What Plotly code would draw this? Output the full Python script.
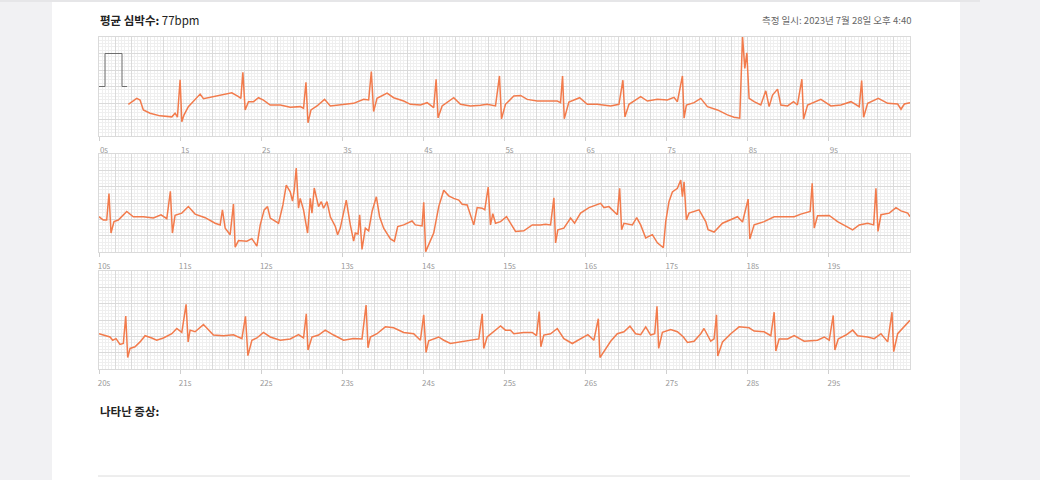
import plotly.graph_objects as go

# ECG strips: time (s) and amplitude (mV)
cal_t = [0.0, 0.074, 0.074, 0.284, 0.284, 0.346]
cal_v = [0.0, 0.0, 1.0, 1.0, 0.0, 0.0]

t1 = [0.362, 0.465, 0.506, 0.547, 0.630, 0.753, 0.898, 0.938, 0.967, 1.000, 1.021, 1.049, 1.102, 1.185,
      1.247, 1.288, 1.411, 1.535, 1.638, 1.720, 1.749, 1.774, 1.802, 1.843, 1.905, 1.967, 2.028, 2.111,
      2.235, 2.358, 2.481, 2.522, 2.552, 2.577, 2.614, 2.688, 2.781, 2.852, 2.975, 3.140, 3.263, 3.325,
      3.358, 3.386, 3.428, 3.552, 3.633, 3.757, 3.840, 3.963, 4.046, 4.127, 4.157, 4.181, 4.231, 4.293,
      4.374, 4.457, 4.580, 4.704, 4.786, 4.889, 4.938, 4.963, 5.012, 5.115, 5.198, 5.280, 5.404, 5.527,
      5.651, 5.691, 5.716, 5.737, 5.794, 5.926, 6.021, 6.144, 6.309, 6.411, 6.460, 6.485, 6.535, 6.679,
      6.762, 6.885, 7.008, 7.090, 7.132, 7.194, 7.214, 7.243, 7.337, 7.420, 7.502, 7.626, 7.749, 7.831,
      7.901, 7.935, 7.963, 7.988, 8.016, 8.078, 8.160, 8.222, 8.263, 8.305, 8.367, 8.407, 8.490, 8.564,
      8.612, 8.667, 8.688, 8.737, 8.901, 9.025, 9.148, 9.272, 9.374, 9.404, 9.428, 9.478, 9.609, 9.725,
      9.848, 9.889, 9.930, 10.0]
v1 = [-0.54, -0.36, -0.41, -0.71, -0.81, -0.89, -0.92, -0.81, -0.93, 0.20, -1.07, -0.86, -0.61, -0.39,
      -0.23, -0.37, -0.31, -0.26, -0.19, -0.31, -0.36, 0.43, -0.71, -0.46, -0.46, -0.34, -0.41, -0.56,
      -0.56, -0.63, -0.61, -0.66, 0.13, -1.10, -0.71, -0.59, -0.39, -0.59, -0.56, -0.51, -0.39, -0.41,
      0.45, -0.76, -0.36, -0.20, -0.34, -0.44, -0.54, -0.56, -0.49, -0.64, 0.22, -0.95, -0.59, -0.49,
      -0.34, -0.54, -0.59, -0.57, -0.54, -0.59, 0.32, -0.98, -0.54, -0.29, -0.27, -0.39, -0.44, -0.44,
      -0.44, -0.49, 0.32, -0.98, -0.47, -0.34, -0.54, -0.54, -0.59, -0.54, 0.19, -0.92, -0.54, -0.31,
      -0.44, -0.39, -0.41, -0.33, -0.46, 0.32, -0.96, -0.56, -0.49, -0.36, -0.61, -0.71, -0.86, -0.93,
      -0.96, 1.52, 0.55, 1.02, -0.36, -0.46, -0.56, -0.13, -0.61, -0.26, -0.08, -0.56, -0.59, -0.46,
      -0.56, 0.22, -0.99, -0.56, -0.39, -0.59, -0.56, -0.46, -0.61, 0.18, -0.93, -0.51, -0.36, -0.51,
      -0.53, -0.69, -0.53, -0.49]

t2 = [10.000, 10.053, 10.095, 10.123, 10.148, 10.185, 10.238, 10.342, 10.423, 10.547, 10.670, 10.765,
      10.836, 10.880, 10.905, 10.938, 11.021, 11.102, 11.185, 11.309, 11.432, 11.494, 11.522, 11.556,
      11.617, 11.658, 11.679, 11.720, 11.823, 11.885, 11.947, 11.988, 12.037, 12.078, 12.111, 12.173,
      12.214, 12.268, 12.309, 12.358, 12.386, 12.407, 12.432, 12.460, 12.481, 12.522, 12.572, 12.605,
      12.626, 12.654, 12.707, 12.741, 12.769, 12.811, 12.852, 12.914, 12.942, 12.975, 13.049, 13.099,
      13.140, 13.160, 13.194, 13.214, 13.243, 13.284, 13.325, 13.367, 13.420, 13.460, 13.510, 13.593,
      13.642, 13.683, 13.757, 13.860, 13.901, 13.984, 14.004, 14.028, 14.086, 14.127, 14.189, 14.251,
      14.312, 14.374, 14.436, 14.478, 14.540, 14.601, 14.621, 14.663, 14.725, 14.757, 14.799, 14.827,
      14.856, 14.889, 14.951, 15.025, 15.074, 15.136, 15.238, 15.342, 15.444, 15.506, 15.568, 15.609,
      15.630, 15.658, 15.732, 15.815, 15.864, 15.938, 16.041, 16.144, 16.185, 16.226, 16.288, 16.391,
      16.420, 16.444, 16.473, 16.577, 16.630, 16.679, 16.741, 16.823, 16.885, 16.959, 16.988, 17.028,
      17.070, 17.132, 17.173, 17.194, 17.214, 17.243, 17.275, 17.399, 17.420, 17.481, 17.510, 17.584,
      17.688, 17.790, 17.873, 17.935, 18.004, 18.025, 18.078, 18.201, 18.325, 18.448, 18.572, 18.654,
      18.769, 18.794, 18.819, 18.860, 19.004, 19.107, 19.293, 19.374, 19.478, 19.552, 19.580, 19.605,
      19.642, 19.744, 19.827, 19.889, 19.972, 20.0]
v2 = [-0.42, -0.52, -0.52, 0.29, -0.92, -0.57, -0.52, -0.26, -0.42, -0.42, -0.46, -0.36,
      -0.48, 0.36, -0.92, -0.38, -0.31, -0.11, -0.34, -0.45, -0.62, -0.67, -0.21, -0.77,
      -0.97, -0.03, -1.35, -1.15, -1.17, -1.09, -1.32, -0.67, -0.21, -0.11, -0.46, -0.55,
      -0.62, -0.06, 0.55, 0.34, 0.06, 0.39, 1.07, -0.16, 0.14, -0.21, -0.92, 0.14,
      -0.31, 0.46, -0.11, 0.04, -0.16, 0.04, -0.42, -0.72, -0.97, -0.77, 0.09, -0.67,
      -1.17, -0.92, -0.95, -0.36, -1.42, -0.77, -0.85, -0.26, 0.19, -0.42, -0.77, -1.10,
      -1.17, -0.72, -0.67, -0.55, -0.67, -0.70, 0.02, -1.49, -1.17, -0.92, -0.11, 0.39,
      0.22, 0.14, 0.09, -0.04, -0.06, -0.57, -0.67, -0.14, -0.16, -0.21, 0.49, -0.67,
      -0.33, -0.62, -0.57, -0.42, -0.62, -0.87, -0.85, -0.67, -0.67, -0.65, -0.67, 0.16,
      -1.22, -0.82, -0.77, -0.46, -0.62, -0.31, -0.14, -0.04, -0.01, -0.14, -0.11, -0.36,
      0.45, -0.82, -0.62, -0.67, -0.45, -0.67, -1.07, -0.97, -1.22, -1.37, -0.57, 0.04,
      0.34, 0.45, 0.70, 0.19, 0.65, -0.52, -0.31, -0.21, -0.31, -0.57, -0.82, -0.89,
      -0.62, -0.52, -0.42, -0.58, 0.12, -1.10, -0.67, -0.57, -0.42, -0.42, -0.42, -0.34,
      -0.26, 0.60, -0.77, -0.39, -0.38, -0.57, -0.82, -0.67, -0.62, -0.67, 0.45, -0.87,
      -0.36, -0.31, -0.14, -0.24, -0.31, -0.42]

t3 = [20.000, 20.074, 20.136, 20.169, 20.210, 20.259, 20.300, 20.330, 20.354, 20.383, 20.444, 20.506,
      20.568, 20.651, 20.712, 20.794, 20.898, 20.959, 21.021, 21.074, 21.099, 21.123, 21.185, 21.288,
      21.349, 21.411, 21.535, 21.658, 21.762, 21.806, 21.836, 21.885, 21.947, 22.028, 22.111, 22.235,
      22.358, 22.460, 22.522, 22.556, 22.577, 22.626, 22.707, 22.790, 22.893, 23.016, 23.140, 23.243,
      23.293, 23.317, 23.346, 23.428, 23.531, 23.633, 23.757, 23.880, 23.963, 24.004, 24.033, 24.065,
      24.189, 24.251, 24.333, 24.457, 24.580, 24.683, 24.725, 24.744, 24.786, 24.877, 24.951, 25.012,
      25.074, 25.115, 25.238, 25.342, 25.395, 25.428, 25.448, 25.485, 25.568, 25.651, 25.732, 25.836,
      25.938, 26.028, 26.102, 26.157, 26.177, 26.226, 26.309, 26.391, 26.473, 26.547, 26.617, 26.679,
      26.741, 26.802, 26.852, 26.880, 26.901, 26.947, 27.049, 27.132, 27.206, 27.256, 27.337, 27.420,
      27.460, 27.543, 27.584, 27.614, 27.630, 27.688, 27.790, 27.893, 28.016, 28.078, 28.201, 28.284,
      28.325, 28.346, 28.386, 28.490, 28.572, 28.695, 28.860, 28.942, 29.004, 29.053, 29.074, 29.115,
      29.210, 29.293, 29.354, 29.478, 29.559, 29.642, 29.725, 29.778, 29.799, 29.848, 29.930, 30.0]
v3 = [-0.42, -0.48, -0.52, -0.62, -0.57, -0.75, -0.72, 0.12, -1.15, -0.87, -0.82, -0.67,
      -0.48, -0.55, -0.62, -0.55, -0.42, -0.26, -0.38, 0.48, -0.67, -0.31, -0.36, -0.14,
      -0.31, -0.46, -0.48, -0.45, -0.57, 0.11, -1.09, -0.62, -0.55, -0.38, -0.52, -0.62,
      -0.58, -0.45, -0.55, 0.19, -0.92, -0.52, -0.46, -0.31, -0.46, -0.62, -0.57, -0.58,
      0.46, -0.85, -0.52, -0.42, -0.21, -0.24, -0.38, -0.42, -0.62, 0.16, -0.99, -0.64,
      -0.52, -0.62, -0.72, -0.67, -0.62, -0.58, 0.19, -0.87, -0.52, -0.34, -0.18, -0.31,
      -0.31, -0.42, -0.38, -0.38, -0.48, 0.26, -0.82, -0.46, -0.42, -0.26, -0.57, -0.72,
      -0.58, -0.45, -0.62, 0.04, -1.15, -0.95, -0.65, -0.42, -0.36, -0.19, -0.42, -0.45,
      -0.21, -0.46, -0.42, 0.42, -0.87, -0.38, -0.29, -0.36, -0.52, -0.69, -0.65, -0.42,
      -0.26, -0.65, -0.58, 0.16, -1.10, -0.67, -0.42, -0.21, -0.24, -0.34, -0.36, -0.48,
      0.24, -0.95, -0.58, -0.58, -0.48, -0.65, -0.62, -0.52, -0.62, 0.14, -0.92, -0.58,
      -0.46, -0.31, -0.48, -0.52, -0.57, -0.42, -0.67, 0.24, -0.97, -0.42, -0.21, -0.01]

# seconds shown under each strip (start of each strip, 10 labels)
strip_starts = [0, 10, 20]
sec_offsets = [0, 1, 2, 3, 4, 5, 6, 7, 8, 9]

W, H = 1040, 480
ECG = '#f27b4c'
MAJOR = '#dadada'
MINOR = '#efefef'
FONT = 'Noto Sans CJK KR'

strips = [(t1, v1, 37, 136), (t2, v2, 154, 252), (t3, v3, 271, 369)]

fig = go.Figure()
layout = {}
for i, ((t, v, ytop, ybot), t0) in enumerate(zip(strips, strip_starts), start=1):
    sfx = '' if i == 1 else str(i)
    xa, ya = 'x' + sfx, 'y' + sfx
    dom_x = [99 / W, 910 / W]
    dom_y = [1 - ybot / H, 1 - ytop / H]
    # grid paper: 0.2 s / 0.5 mV big squares, 0.04 s / 0.1 mV small squares
    layout[f'xaxis{sfx}'] = dict(domain=dom_x, anchor=ya, range=[t0, t0 + 10], dtick=0.2, tick0=0,
                                 showgrid=True, gridcolor=MAJOR, gridwidth=1, zeroline=False,
                                 showticklabels=False, ticks='', showline=True, linecolor=MAJOR, mirror=True,
                                 minor=dict(dtick=0.04, showgrid=True, gridcolor=MINOR, gridwidth=1))
    layout[f'yaxis{sfx}'] = dict(domain=dom_y, anchor=xa, range=[-1.5, 1.5], dtick=0.5, tick0=0,
                                 showgrid=True, gridcolor=MAJOR, gridwidth=1, zeroline=False,
                                 showticklabels=False, ticks='', showline=True, linecolor=MAJOR, mirror=True,
                                 minor=dict(dtick=0.1, showgrid=True, gridcolor=MINOR, gridwidth=1))
    # seconds labels on an overlaid axis, which also carries the trace
    secs = [t0 + s for s in sec_offsets]
    layout[f'xaxis{i + 3}'] = dict(overlaying=xa, anchor=ya, side='bottom', domain=dom_x,
                                   range=[t0, t0 + 10], tickmode='array', tickvals=secs,
                                   ticktext=[f'{s}s' for s in secs], showgrid=False, zeroline=False,
                                   ticks='outside', ticklen=4, tickcolor='#d0d0d0', tickwidth=1,
                                   ticklabelshift=5, ticklabelstandoff=2,
                                   tickfont=dict(size=8, color='#9a9a9a', family=FONT))
    if i > 1:
        # empty trace so the grid subplot itself gets drawn
        fig.add_trace(go.Scatter(x=[], y=[], mode='lines', xaxis=xa, yaxis=ya, hoverinfo='skip'))
    fig.add_trace(go.Scatter(x=t, y=v, mode='lines', xaxis=f'x{i + 3}', yaxis=ya,
                             line=dict(color=ECG, width=1.5), hoverinfo='skip'))

fig.add_trace(go.Scatter(x=cal_t, y=cal_v, mode='lines', xaxis='x', yaxis='y',
                         line=dict(color='#6e6e6e', width=1), hoverinfo='skip'))

fig.update_layout(**layout)

fig.update_layout(
    width=W, height=H, margin=dict(l=0, r=0, t=0, b=0),
    paper_bgcolor='#f1f1f3', plot_bgcolor='white', showlegend=False,
    font=dict(family=FONT),
    shapes=[
        dict(type='rect', xref='paper', yref='paper', x0=52 / W, x1=960 / W, y0=0, y1=1,
             fillcolor='white', line_width=0, layer='below'),
        dict(type='rect', xref='paper', yref='paper', x0=0, x1=980 / W, y0=1 - 2 / H, y1=1,
             fillcolor='#e6e6e8', line_width=0, layer='below'),
        dict(type='line', xref='paper', yref='paper', x0=98 / W, x1=910 / W, y0=1 - 476 / H, y1=1 - 476 / H,
             line=dict(color='#dcdcdc', width=1)),
    ],
    annotations=[
        dict(text='<b>평균 심박수:</b> 77bpm', xref='paper', yref='paper', x=98 / W, y=1 - 20 / H,
             xanchor='left', yanchor='middle', showarrow=False, font=dict(size=11.5, color='#222')),
        dict(text='측정 일시: 2023년 7월 28일 오후 4:40', xref='paper', yref='paper', x=913 / W, y=1 - 20 / H,
             xanchor='right', yanchor='middle', showarrow=False, font=dict(size=9.5, color='#666')),
        dict(text='<b>나타난 증상:</b>', xref='paper', yref='paper', x=98 / W, y=1 - 411 / H,
             xanchor='left', yanchor='middle', showarrow=False, font=dict(size=11.5, color='#222')),
    ],
)

fig.write_html("out.html", config={'displayModeBar': False},
               post_script="document.body.style.margin='0';document.body.style.overflow='hidden';")
